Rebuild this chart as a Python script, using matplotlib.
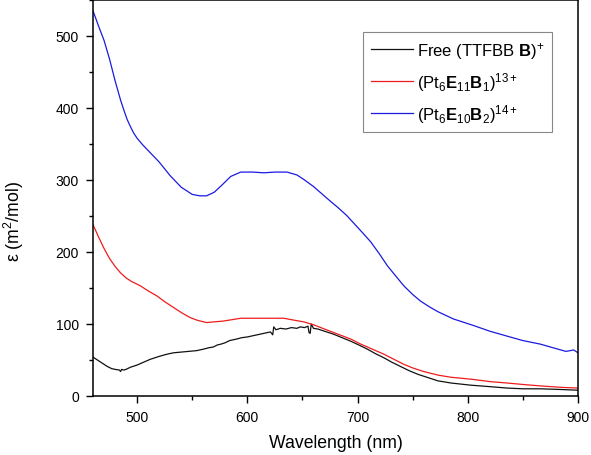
import numpy as np
import matplotlib
matplotlib.use("Agg")
import matplotlib.pyplot as plt
from matplotlib.ticker import MultipleLocator

plt.rcParams["font.family"] = ["Liberation Sans", "DejaVu Sans"]
plt.rcParams["mathtext.fontset"] = "custom"
plt.rcParams["mathtext.rm"] = "Liberation Sans"
plt.rcParams["mathtext.it"] = "Liberation Sans:italic"
plt.rcParams["mathtext.bf"] = "Liberation Sans:bold"

# ---- data (wavelength nm, epsilon m^2/mol) ----
wl_free = [460, 463, 467, 470, 473, 477, 480, 484, 485, 486, 488, 490, 494, 500,
           506, 512, 520, 527, 533, 540, 547, 554, 560, 565, 569, 573, 576, 580,
           584, 590, 595, 600, 606, 612, 618, 621, 622, 623, 624, 626, 630, 635,
           640, 645, 648, 652, 655, 656, 657, 658, 660, 664, 670, 678, 686, 694,
           701, 709, 716, 724, 731, 739, 747, 755, 765, 773, 785, 803, 820, 836,
           850, 866, 885, 900]
eps_free = [54, 51, 47, 44, 41, 38, 37, 36, 34, 37, 36, 37, 40, 43,
            47, 51, 55, 58, 60, 61, 62, 63, 65, 67, 68, 71, 72, 74,
            77, 79, 81, 82, 84, 86, 88, 89, 87, 85, 96, 92, 94, 93,
            95, 94, 96, 95, 97, 88, 87, 100, 94, 93, 90, 86, 81, 76,
            71, 65, 59, 53, 47, 41, 35, 30, 25, 21, 18, 15, 13, 11,
            10, 10, 9, 8]

wl_e11 = [460, 465, 470, 475, 480, 485, 490, 495, 503, 510, 518, 525, 533, 540,
          548, 555, 563, 570, 578, 586, 594, 610, 625, 633, 640, 651, 660, 670,
          682, 694, 703, 712, 724, 733, 742, 750, 760, 773, 785, 805, 820, 836,
          850, 866, 885, 900]
eps_e11 = [238, 221, 205, 191, 180, 171, 164, 159, 153, 146, 139, 131, 123, 116,
           109, 105, 102, 103, 104, 106, 108, 108, 108, 108, 106, 103, 99, 93,
           86, 79, 72, 66, 58, 51, 44, 39, 34, 29, 26, 23, 20, 18,
           16, 14, 12, 11]

wl_e10 = [460, 465, 470, 475, 480, 485, 488, 491, 494, 497, 500, 505, 510, 520,
          530, 540, 550, 557, 563, 570, 577, 585, 594, 605, 615, 625, 636, 645,
          651, 660, 666, 675, 682, 690, 696, 705, 712, 720, 727, 735, 742, 750,
          757, 765, 773, 780, 787, 795, 805, 820, 836, 850, 866, 875, 882, 889,
          893, 896, 900]
eps_e10 = [535, 514, 494, 468, 438, 411, 397, 384, 374, 365, 358, 349, 341, 325,
           306, 290, 280, 278, 278, 283, 293, 305, 311, 311, 310, 311, 311, 307,
           301, 291, 283, 271, 262, 251, 241, 226, 214, 197, 181, 166, 153, 141,
           132, 124, 117, 112, 107, 103, 98, 90, 83, 77, 72, 68, 65, 62,
           63, 64, 60]

labels = [r"Free (TTFBB $\mathbf{B}$)$^{+}$",
          r"(Pt$_{6}$$\mathbf{E}_{11}$$\mathbf{B}_{1}$)$^{13+}$",
          r"(Pt$_{6}$$\mathbf{E}_{10}$$\mathbf{B}_{2}$)$^{14+}$"]
colors = ["#111111", "#ee1c1c", "#1a1ae0"]

fig = plt.figure(figsize=(5.91, 4.56), dpi=100)
ax = fig.add_axes([93 / 591, 59 / 456, 485 / 591, 396 / 456])

ax.plot(wl_free, eps_free, color=colors[0], lw=0.9, label=labels[0])
ax.plot(wl_e11, eps_e11, color=colors[1], lw=0.9, label=labels[1])
ax.plot(wl_e10, eps_e10, color=colors[2], lw=0.9, label=labels[2])

ax.set_xlim(460, 900)
ax.set_ylim(0, 550)
ax.xaxis.set_major_locator(MultipleLocator(100))
ax.xaxis.set_minor_locator(MultipleLocator(50))
ax.yaxis.set_major_locator(MultipleLocator(100))
ax.yaxis.set_minor_locator(MultipleLocator(50))
ax.tick_params(which="major", direction="out", length=5, width=1.0,
               labelsize=10, pad=5)
ax.tick_params(which="minor", direction="out", length=3, width=1.0)
for sp in ax.spines.values():
    sp.set_linewidth(1.1)

# axis titles placed where they sit in the original
fig.text(336 / 591, 1 - 444 / 456, "Wavelength (nm)", fontsize=12.7,
         ha="center", va="center")
fig.text(14 / 591, 1 - 221 / 456, "ε (m$^{2}$/mol)", fontsize=12.7,
         rotation=90, ha="center", va="center")

leg = ax.legend(loc="upper right", bbox_to_anchor=(0.946, 0.919),
                borderaxespad=0, fontsize=12, handlelength=2.5,
                fancybox=False, framealpha=1, edgecolor="#888888",
                labelspacing=0.55, handletextpad=0.25, borderpad=0.45)
leg.get_frame().set_linewidth(0.8)

fig.savefig("out.png", dpi=100)
